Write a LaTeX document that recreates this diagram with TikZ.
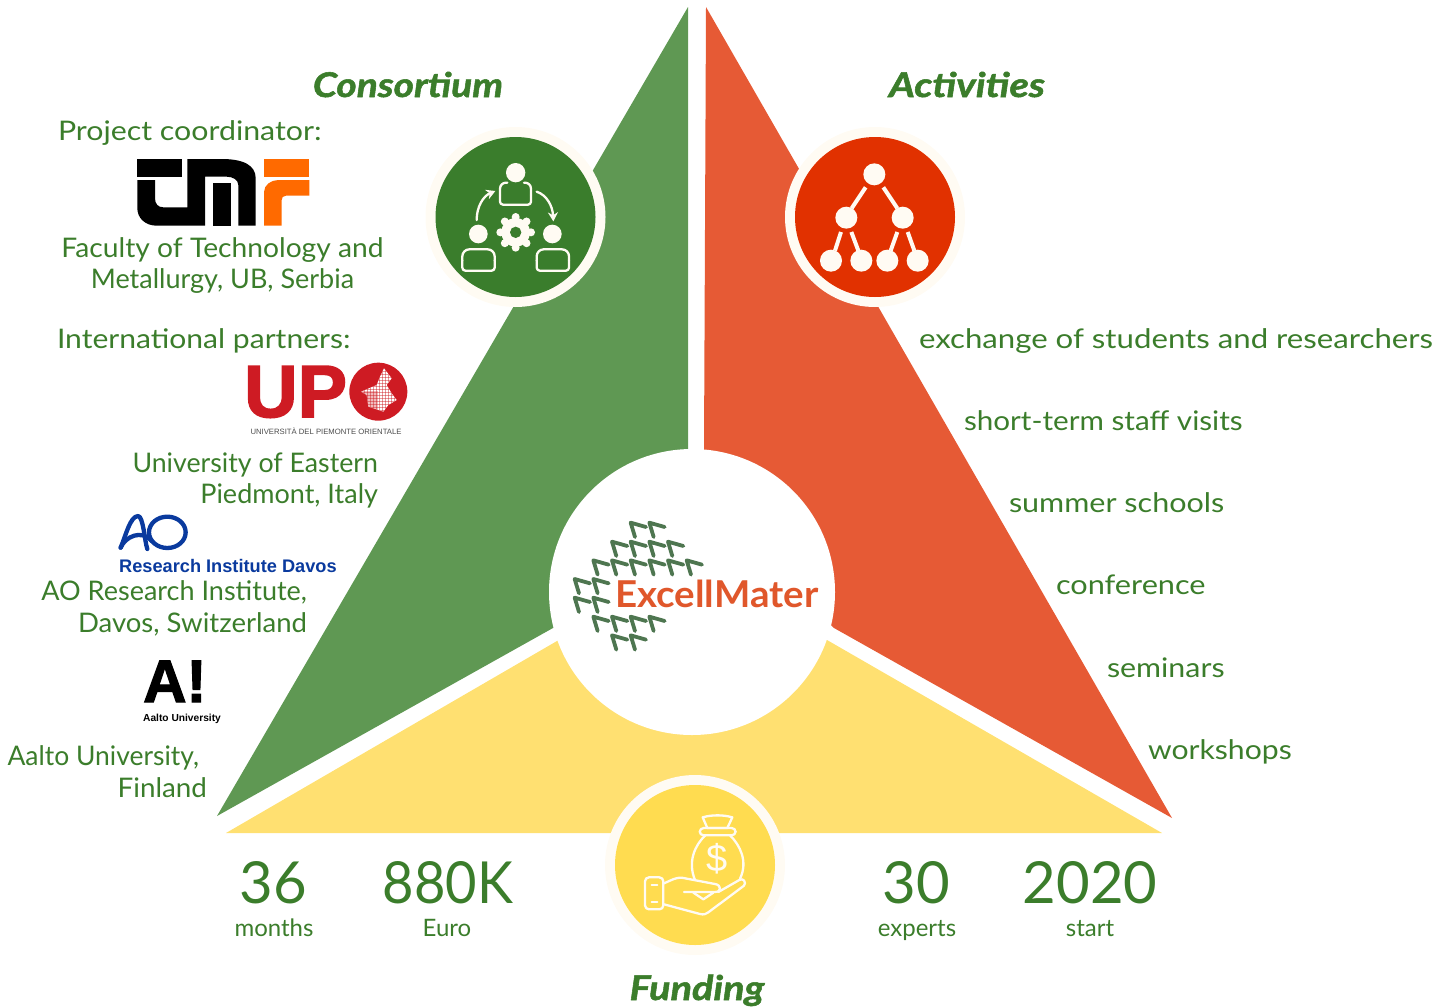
\documentclass[tikz,border=0pt]{standalone}
\usepackage{fontspec}
\setmainfont{Lato}
\newfontfamily\logofont{Liberation Sans}
\usetikzlibrary{arrows.meta}
\definecolor{txtg}{HTML}{3B7D2B}
\definecolor{trig}{HTML}{5F9853}
\definecolor{trio}{HTML}{E65A35}
\definecolor{triy}{HTML}{FFE071}
\definecolor{circg}{HTML}{3A7D2C}
\definecolor{circo}{HTML}{E13100}
\definecolor{circy}{HTML}{FFDC50}
\definecolor{cream}{HTML}{FFFBF3}
\definecolor{chev}{HTML}{4E7650}
\definecolor{logoo}{HTML}{E0572B}
\definecolor{upor}{HTML}{CE1B23}
\definecolor{aob}{HTML}{0A3A9E}
\definecolor{tmfo}{HTML}{FF6A00}
\tikzset{
 body/.style={inner sep=0pt,outer sep=0pt,text=txtg,font=\fontsize{27}{27}\selectfont\addfontfeature{FakeStretch=#1}},
 big/.style={inner sep=0pt,outer sep=0pt,text=txtg,font=\fontsize{58}{58}\selectfont\addfontfeature{FakeStretch=#1}},
 big/.default=1,
 small/.style={inner sep=0pt,outer sep=0pt,text=txtg,font=\fontsize{24}{24}\selectfont},
 head/.style={inner sep=0pt,outer sep=0pt,text=txtg,font=\fontsize{34}{34}\selectfont\bfseries\itshape\addfontfeature{FakeStretch=#1,FakeBold=1.6}},
 ico/.style={draw=cream,line width=2.3pt,line join=round,line cap=round},
 chevline/.style={draw=chev,line width=3.8pt,line cap=round,line join=round}
}
\begin{document}
\begin{tikzpicture}[x=1pt,y=-1pt]
\useasboundingbox (0,0) rectangle (1438,1007);
% triangles
\fill[trig] (688,7) -- (688,500) -- (553,628) -- (217,816) -- cycle;
\fill[trio] (706,7) -- (1172,818) -- (834,628) -- (704,500) -- (704,449) -- cycle;
\fill[triy] (226,833) -- (557,641) -- (692,592) -- (827,640) -- (1162,833) -- cycle;
\fill[white] (692,592) circle[radius=143];
% icon discs
\fill[cream] (515.5,217) circle[radius=90];
\fill[circg] (515.5,217) circle[radius=80];
\fill[cream] (875,217) circle[radius=90];
\fill[circo] (875,217) circle[radius=80];
\fill[cream] (695,865) circle[radius=90];
\fill[circy] (695,865) circle[radius=80];
% consortium icon
\begin{scope}[shift={(420,120)},scale=0.33333]
 \fill[cream] (287,158) circle[radius=29] (175,342) circle[radius=28] (397,342) circle[radius=28];
 \draw[ico,rounded corners=6pt] (262,188) -- (240,188) -- (240,225);
 \draw[ico,rounded corners=6pt] (312,188) -- (333,188) -- (333,225);
 \draw[ico,rounded corners=3pt] (240,225) -- (240,254) -- (333,254) -- (333,225);
 \draw[ico,rounded corners=7pt] (127,422) -- (127,388) -- (224,388) -- (224,422);
 \draw[ico,rounded corners=3pt] (127,422) -- (127,452) -- (224,452) -- (224,422);
 \draw[ico,rounded corners=7pt] (350,422) -- (350,388) -- (447,388) -- (447,422);
 \draw[ico,rounded corners=3pt] (350,422) -- (350,452) -- (447,452) -- (447,422);
 \draw[ico,-{Stealth[length=9pt,width=10pt]}] (170,300) .. controls (170,260) and (190,228) .. (226,213);
 \draw[ico,-{Stealth[length=9pt,width=10pt]}] (350,215) .. controls (380,225) and (398,258) .. (400,304);
 \fill[cream] (287,337) circle[radius=43];
 \foreach \a in {0,45,...,315} \fill[cream] (287,337) ++(\a:46) circle[radius=12];
 \fill[circg] (287,337) circle[radius=17];
\end{scope}
% activities icon
\begin{scope}[shift={(780,120)},scale=0.33333]
 \draw[cream,line width=4pt] (257,202) -- (215,265) (310,202) -- (352,265) (183,336) -- (165,392) (214,336) -- (235,392) (352,336) -- (332,392) (383,336) -- (403,392);
 \fill[cream] (283,163) circle[radius=33] (199,293) circle[radius=33] (368,293) circle[radius=33]
  (153,422) circle[radius=33] (244,422) circle[radius=33] (322,422) circle[radius=33] (413,422) circle[radius=33];
\end{scope}
% funding icon
\begin{scope}[shift={(600,770)},scale=0.33333]
 \draw[ico] (308,142) .. controls (335,134) and (370,134) .. (397,142) -- (382,174) -- (322,174) -- cycle;
 \draw[ico,rounded corners=4pt] (299,174) rectangle (407,196);
 \draw[ico] (316,196) .. controls (285,225) and (262,275) .. (285,330);
 \draw[ico] (390,196) .. controls (420,225) and (445,275) .. (420,326);
 \draw[ico,rounded corners=4pt] (135,322) rectangle (190,418);
 \draw[ico] (155,345) -- (172,345) (155,397) -- (172,397);
 \draw[ico] (192,340) .. controls (215,330) and (228,322) .. (245,323) -- (345,342) .. controls (365,345) and (365,366) .. (345,366) -- (252,366);
 \draw[ico] (192,403) -- (300,432) .. controls (312,435) and (318,432) .. (325,427) -- (432,347) .. controls (440,338) and (430,322) .. (418,330) -- (355,366);
 \draw[ico] (280,368) -- (310,388) -- (340,368);
 \node[inner sep=0pt,text=cream,font=\logofont\fontsize{38}{38}\selectfont] (dollar) at (352,267) {\$};
\end{scope}
% ExcellMater logo
\begin{scope}[shift={(560,500)},scale=0.33333]
 \foreach \xa/\ya in {212/68,268/68,
   156/125,212/125,268/125,324/125,
   100/181,156/181,212/181,268/181,324/181,380/181,
   44/237,100/237,44/293,100/293,
   100/350,156/350,212/350,268/350,156/406,212/406}
  \draw[chevline] (\xa+13,\ya+43) -- (\xa,\ya) -- (\xa+46,\ya+13);
\end{scope}
\node[anchor=base west,inner sep=0pt,text=logoo,font=\fontsize{37}{37}\selectfont\bfseries\addfontfeature{FakeStretch=1.04}] (logotext) at (615,607) {ExcellMater};
% TMF logo
\fill[black] (137.3,159) rectangle (182.3,176.7);
\fill[black] (137.3,180) -- (155,180) -- (155,198) .. controls (155,204) and (158,207.3) .. (163.3,207.3) -- (187.3,207.3) -- (187.3,159) -- (221.7,159) .. controls (243,159) and (255.7,165) .. (255.7,178.3) -- (255.7,225.7) -- (238.3,225.7) -- (238.3,185) .. controls (238.3,180) and (233,176.7) .. (226.7,176.7) -- (205,176.7) -- (205,225.7) -- (157,225.7) .. controls (145,225.7) and (137.3,218) .. (137.3,208) -- cycle;
\fill[black] (213.3,183.3) rectangle (230.7,225.7);
\fill[tmfo] (264,159) rectangle (309.3,176.7);
\fill[tmfo] (264,225.7) -- (264,192) .. controls (264,185) and (271,180) .. (278.3,180) -- (309.3,180) -- (309.3,195.7) -- (286,195.7) .. controls (283,195.7) and (281.7,197.5) .. (281.7,200) -- (281.7,225.7) -- cycle;
% UPO logo
\node[anchor=base west,inner sep=0pt,text=upor,font=\logofont\fontsize{74}{74}\selectfont\bfseries\addfontfeature{FakeBold=2.2}] (upo) at (244,417) {UP};
\begin{scope}[shift={(235,350)},scale=0.33333]
 \fill[upor] (430,125) circle[radius=87];
 \begin{scope}
  \clip (447,55) -- (470,85) -- (455,105) -- (470,130) -- (485,150) -- (460,165) -- (445,185) -- (400,170) -- (395,135) -- (378,125) -- (425,105) -- (435,80) -- cycle;
  \fill[white] (370,50) rectangle (490,190);
  \foreach \gx in {378,387,...,486} \draw[upor,opacity=.45,line width=0.7pt] (\gx,50) -- (\gx,190);
  \foreach \gy in {55,64,...,185} \draw[upor,opacity=.45,line width=0.7pt] (370,\gy) -- (490,\gy);
  \fill[upor,opacity=0.3] (370,122) rectangle (430,190);
 \end{scope}
\end{scope}
\node[inner sep=0pt,text=black!70,font=\logofont\fontsize{7.7}{8}\selectfont] (upotext) at (326,431) {UNIVERSITÀ DEL PIEMONTE ORIENTALE};
% AO logo
\begin{scope}[shift={(110,505)},scale=0.33333]
 \draw[aob,line width=4.3pt] (172,82) ellipse[x radius=55,y radius=47];
 \draw[aob,line width=4.3pt,line cap=round,line join=round] (32,128) .. controls (48,90) and (60,35) .. (84,33) .. controls (100,33) and (104,110) .. (112,132);
 \draw[aob,line width=4.3pt,line cap=round] (32,128) .. controls (45,95) and (95,72) .. (125,108);
\end{scope}
\node[anchor=base west,inner sep=0pt,text=aob,font=\logofont\fontsize{18.2}{18}\selectfont\bfseries] (aotext) at (119,572) {Research Institute Davos};
% Aalto logo
\node[anchor=base west,inner sep=0pt,text=black,font=\logofont\fontsize{60}{60}\selectfont\bfseries\addfontfeature{FakeBold=2}] (aalto) at (143,702) {A!};
\node[anchor=base west,inner sep=0pt,text=black,font=\logofont\fontsize{10.2}{10}\selectfont\bfseries] (aaltotext) at (143,721) {Aalto University};
% headings
\node[head=1.145,anchor=base] (h1) at (408,97) {Consortium};
\node[head=1.17,anchor=base] (h2) at (967,97) {Activities};
\node[head=1.165,anchor=base] (h3) at (697,1000) {Funding};
% left text
\node[body=1.123,anchor=base west] (t1) at (58,140) {Project coordinator:};
\node[body=1.045,anchor=base] (t2) at (222.5,257) {Faculty of Technology and};
\node[body=1,anchor=base] (t3) at (222.5,288) {Metallurgy, UB, Serbia};
\node[body=1.114,anchor=base west] (t4) at (57,348) {International partners:};
\node[body=.99,anchor=base east] (t5) at (378,472) {University of Eastern};
\node[body=1,anchor=base east] (t6) at (378,503) {Piedmont, Italy};
\node[body=1,anchor=base east] (t7) at (307,600) {AO Research Institute,};
\node[body=1.02,anchor=base east] (t8) at (307,632) {Davos, Switzerland};
\node[body=.98,anchor=base east] (t9) at (199,765) {Aalto University,};
\node[body=1.03,anchor=base east] (t10) at (207,797) {Finland};
% right text
\node[body=1.155,anchor=base west] (r1) at (919,348) {exchange of students and researchers};
\node[body=1.098,anchor=base west] (r2) at (964,430) {short-term staff visits};
\node[body=1.13,anchor=base west] (r3) at (1009,512) {summer schools};
\node[body=1.137,anchor=base west] (r4) at (1056,594) {conference};
\node[body=1.125,anchor=base west] (r5) at (1107,677) {seminars};
\node[body=1.117,anchor=base west] (r6) at (1148,759) {workshops};
% numbers
\node[big,anchor=base] (n1) at (273,903) {36};
\node[small,anchor=base] (l1) at (274,936) {months};
\node[big=.935,anchor=base] (n2) at (448,903) {880K};
\node[small,anchor=base] (l2) at (447,936) {Euro};
\node[big,anchor=base] (n3) at (916,903) {30};
\node[small,anchor=base] (l3) at (917,936) {experts};
\node[big,anchor=base] (n4) at (1090,903) {2020};
\node[small,anchor=base] (l4) at (1090,936) {start};
\end{tikzpicture}
\end{document}
